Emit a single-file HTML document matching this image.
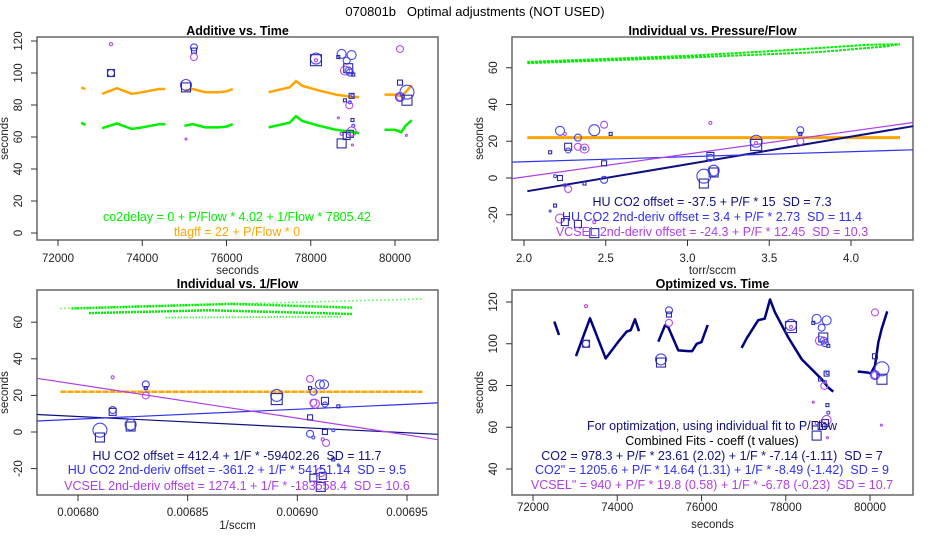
<!DOCTYPE html>
<html><head><meta charset="utf-8"><style>
html,body{margin:0;padding:0;background:#fff}
svg{display:block;font-family:"Liberation Sans",sans-serif}
text{white-space:pre}
</style></head><body>
<svg id="chart" width="950" height="550" viewBox="0 0 950 550" xmlns="http://www.w3.org/2000/svg">
<text x="475" y="16" text-anchor="middle" font-size="13" fill="#000" xml:space="preserve">070801b   Optimal adjustments (NOT USED)</text>
</svg>
<script>
// ---- data ----
const timeTicks = [72000, 74000, 76000, 78000, 80000];
const p1YTicks = [0, 20, 40, 60, 80, 100, 120];
const p4YTicks = [40, 60, 80, 100, 120];
const p2XTicks = [2.0, 2.5, 3.0, 3.5, 4.0];
const p2XTickLabels = ["2.0", "2.5", "3.0", "3.5", "4.0"];
const p3XTicks = [0.0068, 0.00685, 0.0069, 0.00695];
const p3XTickLabels = ["0.00680", "0.00685", "0.00690", "0.00695"];
const indYTicks = [-20, 0, 20, 40, 60];

const tlagSegs = [
 [[72550,91],[72650,90]],
 [[73050,87],[73400,90.5],[73750,87],[74000,88],[74400,90],[74550,90]],
 [[75000,89],[75200,90],[75500,88],[75800,88],[76000,88.5],[76150,90]],
 [[77000,88],[77500,91],[77650,95],[77800,92],[78200,89],[78600,86.5],[79000,85],[79150,85]],
 [[79750,86.5],[80000,86.5],[80150,85.5],[80250,88],[80400,92.5]]
];
const co2Segs = [
 [[72550,69],[72650,67.5]],
 [[73050,65.5],[73400,68.5],[73750,65],[74000,66],[74400,68],[74550,68]],
 [[75000,67],[75200,68],[75500,66],[75800,66],[76000,66.5],[76150,68]],
 [[77000,66],[77500,69],[77650,73],[77800,70],[78200,67],[78600,64.5],[79000,63],[79150,62.5]],
 [[79750,64.5],[80000,64.5],[80150,63],[80250,67],[80400,70.5]]
];
const optSegs = [
 [[72506,110.6],[72617,104.2]],
 [[73021,94.1],[73353,112.2],[73725,93],[74025,101],[74224,105.8],[74320,106.5],[74421,111.7],[74516,106]],
 [[74974,101],[75133,108.8],[75210,108],[75449,96.8],[75686,96.5],[75780,96.5],[75885,100],[76000,100.8],[76147,109]],
 [[76953,98],[77072,102.6],[77347,111.3],[77500,112],[77625,121.2],[77744,115],[78060,103],[78378,92.6],[78853,83],[79010,79],[79128,77.1]],
 [[79707,86.7],[79959,86.2],[80020,85.7],[80118,89.5],[80197,100.6],[80276,107],[80409,115.5]]
];
const timePtsT = [73258,73258,73258,75228,75228,75228,75038,75038,75038,78124,78124,78124,78733,78654,78852,78970,78812,78890,78900,78930,79010,78970,78990,78812,78930,78915,78654,78990,79010,78733,78852,78930,78970,78733,78990,80118,80118,80118,80118,80284,80284,80270];
const timePtsV = [118,100,100,116,114,110,92.5,91,58.7,109,108,108,111.9,110,107.7,111.2,101.5,103,101.5,100.3,99,85.7,86,82.9,81.7,79.8,72,70.6,67,62,60.6,62,63.5,56,55,115,94,85,85,88,83,61];
const timePtsShape = ["c","c","s","c","s","c","c","s","c","c","s","c","c","s","c","c","c","s","c","c","s","s","c","s","c","c","c","s","c","c","s","s","c","s","c","c","s","c","c","c","s","c"];
const timePtsSize = [1.5,3.5,3.5,3.5,2.5,3.5,5.5,4.5,1,5.5,5.5,1.5,4.5,1.5,3.5,4.5,4.5,4.5,3.5,3.5,1.5,2.5,1.5,1.5,1.5,3.5,1,1.5,1.5,1.5,3.5,3.5,4.5,4.5,1,3.5,2.5,4.5,3.5,7,5,1];
const timePtsCol = ["p","b","n","b","n","p","b","n","p","b","n","p","b","n","b","b","p","n","b","b","n","n","b","n","b","p","p","n","b","p","n","n","p","n","p","p","n","b","p","b","n","p"];

const pfPtsX = [2.22,2.25,2.16,2.27,2.27,2.33,2.33,2.37,2.37,2.43,2.49,2.53,2.49,2.49,2.19,2.22,2.27,2.25,2.37,2.19,2.16,2.22,2.25,2.33,2.43,2.43,3.14,3.14,3.14,3.10,3.10,3.16,3.16,3.42,3.42,3.42,3.69,3.69,3.69];
const pfPtsV = [25.7,24,14,17,15,22,17,16,16,26,29,24,8,-1,1,0,-6,-4,-3,-15,-18,-22,-24,-25,-30,-24,30,12,11,1,-3,4,3,20,18,19,26,24,20];
const pfPtsShape = ["c","c","s","s","c","c","c","c","c","c","c","s","s","c","c","s","c","c","s","s","c","c","s","s","s","c","c","s","c","c","s","c","s","c","s","c","c","s","c"];
const pfPtsSize = [4.5,1.5,1.5,3.5,2.5,3.5,3.5,4.5,1.5,5.5,3.5,1.5,2.5,3.5,1.5,2.5,3.5,1.5,1.5,1.5,1,4.5,3.5,3.5,4.5,1.5,1.5,3.5,3.5,7,4.5,5.5,4.5,6,5.5,1.5,3.5,1.5,3.5];
const pfPtsCol = ["b","p","n","n","b","b","p","p","b","b","p","n","n","b","b","n","p","b","n","n","b","p","n","n","n","p","p","n","b","b","n","b","n","b","n","p","b","n","p"];

const ifPtsX = [0.0068158,0.0068158,0.0068158,0.006824,0.006824,0.00681,0.00681,0.0068309,0.0068309,0.0068309,0.0068906,0.0068906,0.0069058,0.0069103,0.0069122,0.0069058,0.0069073,0.0069073,0.006908,0.0069126,0.0069126,0.0069187,0.0069058,0.0069058,0.0069073,0.0069126,0.0069164,0.0069116,0.0069131,0.0069116,0.0069073,0.0069107,0.0069164,0.0069187,0.0069107];
const ifPtsV = [29.9,12,11,4,3,1,-3,26,24,20,20,18,29,26,26,24,22,16,15.5,17,15,14,8,-1,-3,0,1,-4,-6,-24,-25,-30,-15,-18,-22];
const ifPtsShape = ["c","c","s","c","s","c","s","c","s","c","c","s","c","c","c","s","c","c","c","s","c","s","s","c","c","s","c","c","c","s","s","s","s","c","c"];
const ifPtsSize = [1.5,3.5,3.5,5.5,4.5,7,4.5,3.5,1.5,3.5,6,5.5,3.5,4.5,4.5,1.5,3.5,3.5,4.5,3.5,2.5,1.5,2.5,3.5,1.5,2.5,1.5,1.5,3.5,3.5,3.5,4.5,1.5,1,4.5];
const ifPtsCol = ["p","b","n","b","n","b","n","b","n","p","b","n","p","b","b","n","b","p","p","n","b","n","n","b","b","n","b","p","p","n","n","n","n","b","p"];

const pfFitIntercept = [-37.5, 3.4, -24.3];
const pfFitSlope = [15, 2.73, 12.45];
const ifFitIntercept = [412.4, -361.2, 1274.1];
const ifFitSlope = [-59402.26, 54151.14, -183558.4];
const fitCols = ["#101080", "#3030f0", "#b040e8"];

// ---- drawing ----
const svg = document.getElementById('chart');
const NS = 'http://www.w3.org/2000/svg';
const COL = {b:"#4646f0", n:"#2a2aa8", p:"#b64ce8"};
function mk(tag, attrs, parent){const e=document.createElementNS(NS,tag);for(const k in attrs)e.setAttribute(k,attrs[k]);(parent||svg).appendChild(e);return e;}
function txt(x,y,s,attrs,parent){const e=mk('text',Object.assign({x:x,y:y},attrs),parent);e.textContent=s;return e;}

function panel(name, box, title, xticks, xlabels, sx, yticks, sy, xlab, xTickY, xLabY){
  const g=mk('g',{});
  
  
  const r=mk('rect',{x:box[0],y:box[1],width:box[2]-box[0],height:box[3]-box[1],fill:'none',stroke:'#666','stroke-width':1.5},g);
  
  
  const t=txt((box[0]+box[2])/2, box[1]-2, title, {'text-anchor':'middle','font-size':12.5,'font-weight':'bold'}, g);
  
  
  xticks.forEach((v,i)=>{
    const x=sx(v);
    mk('line',{x1:x,x2:x,y1:box[3],y2:box[3]+6,stroke:'#333','stroke-width':1},g);
    const l=txt(x,xTickY,xlabels[i],{'text-anchor':'middle','font-size':11.5,fill:'#222'},g);
    
    
  });
  yticks.forEach(v=>{
    const y=sy(v);
    mk('line',{x1:box[0]-6,x2:box[0],y1:y,y2:y,stroke:'#333','stroke-width':1},g);
    const lx=box[0]-15;
    const l=txt(lx,y,String(v),{'text-anchor':'middle','font-size':11.5,fill:'#222',transform:`rotate(-90 ${lx} ${y})`},g);
    
    
  });
  const xl=txt((box[0]+box[2])/2, xLabY, xlab, {'text-anchor':'middle','font-size':11.5,fill:'#222'},g);
  
  
  const cy=(box[1]+box[3])/2, cx=box[0]-29;
  const yl=txt(cx,cy,'seconds',{'text-anchor':'middle','font-size':11.5,fill:'#222',transform:`rotate(-90 ${cx} ${cy})`},g);
  
  
  return g;
}
function poly(pts, sx, sy, attrs, name, g){
  const p=mk('polyline',Object.assign({points:pts.map(q=>sx(q[0]).toFixed(1)+','+sy(q[1]).toFixed(1)).join(' '),fill:'none'},attrs),g);
  
  
  return p;
}
function points(X,V,S,R,C,sx,sy,g){
  X.forEach((x,i)=>{
    const px=sx(x), py=sy(V[i]), r=R[i], c=COL[C[i]];
    let e;
    if(S[i]==='c') e=mk('circle',{cx:px,cy:py,r:r,fill:'none',stroke:c,'stroke-width':1.1},g);
    else e=mk('rect',{x:px-r,y:py-r,width:2*r,height:2*r,fill:'none',stroke:c,'stroke-width':1.1},g);
    
    
  });
}
function label(x,y,s,col,g){
  const e=txt(x,y,s,{'text-anchor':'middle','font-size':12.5,fill:col,'xml:space':'preserve'},g);
  
  
}

// Panel 1
const sx1=t=>58+(t-72000)*0.042125, sy1=v=>233-v*1.6;
const g1=panel('additive-vs-time-panel',[37,37,438,240],'Additive vs. Time',timeTicks,timeTicks.map(String),sx1,p1YTicks,sy1,'seconds',262,274);
tlagSegs.forEach(s=>poly(s,sx1,sy1,{stroke:'#ffa500','stroke-width':2.5},'tlagff-line',g1));
co2Segs.forEach(s=>poly(s,sx1,sy1,{stroke:'#00ee00','stroke-width':2.5},'co2delay-line',g1));
points(timePtsT,timePtsV,timePtsShape,timePtsSize,timePtsCol,sx1,sy1,g1);
label(237,221,'co2delay = 0 + P/Flow * 4.02 + 1/Flow * 7805.42','#00ee00',g1);
label(237,236,'tlagff = 22 + P/Flow * 0','#ffa500',g1);

// Panel 2
const sx2=p=>524+(p-2)*163.5, sy2=v=>178-v*1.8375;
const g2=panel('individual-vs-pressure-flow-panel',[512,37,913,240],'Individual vs. Pressure/Flow',p2XTicks,p2XTickLabels,sx2,indYTicks,sy2,'torr/sccm',262,274);
poly([[2.02,62.5],[3.0,65.5],[3.8,68.5],[4.2,71.5],[4.3,72.8],[4.1,72.5],[3.6,69.5],[3.0,66.5],[2.02,63.2]],sx2,sy2,{stroke:'#00ee00','stroke-width':2,'stroke-dasharray':'3 1'},'green-cloud',g2);
poly([[2.02,22],[4.3,22]],sx2,sy2,{stroke:'#ffa500','stroke-width':3},'tlagff-line',g2);
const x2a=1.927, x2b=4.379;
[0,1,2].forEach(k=>{
  const xa = k===0 ? 2.02 : x2a;
  poly([[xa,pfFitIntercept[k]+pfFitSlope[k]*xa],[x2b,pfFitIntercept[k]+pfFitSlope[k]*x2b]],sx2,sy2,{stroke:fitCols[k],'stroke-width':k===0?2:1.2},'fit-line',g2);
});
points(pfPtsX,pfPtsV,pfPtsShape,pfPtsSize,pfPtsCol,sx2,sy2,g2);
label(712,206,'HU CO2 offset = -37.5 + P/F * 15  SD = 7.3',fitCols[0],g2);
label(712,221,'HU CO2 2nd-deriv offset = 3.4 + P/F * 2.73  SD = 11.4',fitCols[1],g2);
label(712,236,'VCSEL 2nd-deriv offset = -24.3 + P/F * 12.45  SD = 10.3',fitCols[2],g2);

// Panel 3
const sx3=f=>78+(f-0.0068)*2193333, sy3=v=>432-v*1.83;
const g3=panel('individual-vs-inverse-flow-panel',[37,290,438,495],'Individual vs. 1/Flow',p3XTicks,p3XTickLabels,sx3,indYTicks,sy3,'1/sccm',516,529);
poly([[0.006792,67.5],[0.006957,72.7]],sx3,sy3,{stroke:'#00ee00','stroke-width':1.5,'stroke-dasharray':'1 3'},'green-cloud',g3);
poly([[0.006797,67.5],[0.00687,70],[0.006925,68]],sx3,sy3,{stroke:'#00ee00','stroke-width':2.5,'stroke-dasharray':'2 1'},'green-cloud',g3);
poly([[0.006805,65],[0.00686,66.5],[0.006925,64.5]],sx3,sy3,{stroke:'#00ee00','stroke-width':2.5,'stroke-dasharray':'2 1'},'green-cloud',g3);
poly([[0.00684,62.5],[0.00692,63]],sx3,sy3,{stroke:'#00ee00','stroke-width':2,'stroke-dasharray':'1 2'},'green-cloud',g3);
poly([[0.006792,22],[0.006957,22]],sx3,sy3,{stroke:'#ffa500','stroke-width':2.5,'stroke-dasharray':'6 1'},'tlagff-line',g3);
const x3a=0.0067813, x3b=0.0069641;
[0,1,2].forEach(k=>{
  poly([[x3a,ifFitIntercept[k]+ifFitSlope[k]*x3a],[x3b,ifFitIntercept[k]+ifFitSlope[k]*x3b]],sx3,sy3,{stroke:fitCols[k],'stroke-width':1.2},'fit-line',g3);
});
points(ifPtsX,ifPtsV,ifPtsShape,ifPtsSize,ifPtsCol,sx3,sy3,g3);
label(237,460,'HU CO2 offset = 412.4 + 1/F * -59402.26  SD = 11.7',fitCols[0],g3);
label(237,474,'HU CO2 2nd-deriv offset = -361.2 + 1/F * 54151.14  SD = 9.5',fitCols[1],g3);
label(237,490,'VCSEL 2nd-deriv offset = 1274.1 + 1/F * -183558.4  SD = 10.6',fitCols[2],g3);

// Panel 4
const sx4=t=>533+(t-72000)*0.042125, sy4=v=>469-(v-40)*2.0875;
const g4=panel('optimized-vs-time-panel',[512,290,913,495],'Optimized vs. Time',timeTicks,timeTicks.map(String),sx4,p4YTicks,sy4,'seconds',511,528);
optSegs.forEach(s=>poly(s,sx4,sy4,{stroke:'#000080','stroke-width':2.5,'stroke-linejoin':'round'},'optimized-line',g4));
points(timePtsT,timePtsV,timePtsShape,timePtsSize,timePtsCol,sx4,sy4,g4);
label(712,430,'For optimization, using individual fit to P/Flow','#101080',g4);
label(712,445,'Combined Fits - coeff (t values)','#000',g4);
label(712,460,'CO2 = 978.3 + P/F * 23.61 (2.02) + 1/F * -7.14 (-1.11)  SD = 7','#101080',g4);
label(712,474,'CO2" = 1205.6 + P/F * 14.64 (1.31) + 1/F * -8.49 (-1.42)  SD = 9','#3030f0',g4);
label(712,489,'VCSEL" = 940 + P/F * 19.8 (0.58) + 1/F * -6.78 (-0.23)  SD = 10.7','#b040e8',g4);
</script>
</body></html>
